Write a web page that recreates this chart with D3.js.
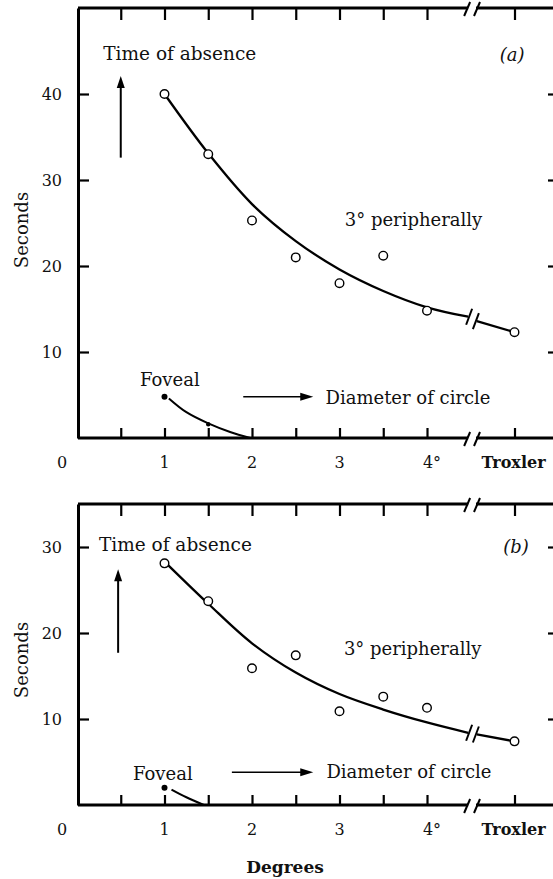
<!DOCTYPE html>
<html lang="en">
<head>
<meta charset="utf-8">
<title>Time of absence vs diameter of circle</title>
<style>
  body { margin: 0; background: #fff; }
  svg { display: block; background: #fff; }
  svg text { font-family: "DejaVu Serif", "Liberation Serif", serif; }
  .axis path, .axis line { stroke: #000; fill: none; }
  .axis line { stroke-width: 2.2px; }
  .axis path { stroke-width: 3px; }
  .frame { stroke: #000; stroke-width: 3px; fill: none; }
  .fit { stroke: #000; stroke-width: 2.3px; fill: none; }
  .obs { fill: #fff; stroke: #000; stroke-width: 1.4px; }
  .lbl { fill: #111; }
</style>
</head>
<body>
<script src="https://cdnjs.cloudflare.com/ajax/libs/d3/7.8.5/d3.min.js"></script>
<script>
// ---- data ----
var sizes = [1, 1.5, 2, 2.5, 3, 3.5, 4, 5];           // 5 = "Troxler" position
var timesA = [40, 33, 25.3, 21, 18, 21.2, 14.8, 12.3];
var timesB = [28.1, 23.7, 15.9, 17.4, 10.9, 12.6, 11.3, 7.4];

var fitX = [1, 1.5, 2, 2.5, 3, 3.5, 4, 4.47];
var fitA = [40, 33.1, 27.2, 22.9, 19.6, 17.1, 15.2, 14.1];
var fitB = [28.3, 23.4, 18.8, 15.4, 12.9, 11.1, 9.6, 8.4];
var tailX = [4.57, 5];
var tailA = [13.6, 12.3];
var tailB = [8.2, 7.4];

var fovealX = [1, 1.5];
var fovealA = [4.8, 1.6];
var fovealB = [2.0];
var fovealFitXA = [1.05, 1.25, 1.5, 1.75, 1.98];
var fovealFitA = [4.6, 3.0, 1.7, 0.7, 0];
var fovealFitXB = [1.08, 1.25, 1.45];
var fovealFitB = [1.8, 0.9, 0];

var xTickVals = [0.5, 1, 1.5, 2, 2.5, 3, 3.5, 4, 5];
var xLabelVals = [0, 1, 2, 3, 4];
var xLabels = ["0", "1", "2", "3", "4°"];
var yTicksA = [10, 20, 30, 40];
var yTicksB = [10, 20, 30];

var W = 553, H = 879;
var FONT = "'DejaVu Serif', 'Liberation Serif', serif";
var svg = d3.select("body").append("svg").attr("width", W).attr("height", H)
  .attr("font-family", FONT);

var x = d3.scaleLinear().domain([0, 5]).range([77, 514.5]);
var xLeft = 78, xRight = 558;
var breakAt = [4.47, 4.56];

var line = d3.line()
  .x(function(d) { return x(d[0]); })
  .y(function(d) { return d[1]; })
  .curve(d3.curveCatmullRom);

function slash(g, px, py, h) {
  g.append("line").attr("class", "frame").style("stroke-width", "2px")
    .attr("x1", px - 3).attr("y1", py + h)
    .attr("x2", px + 3).attr("y2", py - h);
}

function panel(p) {
  var y = d3.scaleLinear().domain(p.domain).range(p.range);
  var g = svg.append("g");
  var top = y(p.domain[1]), bot = y(0);

  // left axis (ticks point inward)
  g.append("g").attr("class", "axis")
    .attr("transform", "translate(" + xLeft + ",0)")
    .call(d3.axisLeft(y).tickValues(p.yTicks).tickSize(-11).tickSizeOuter(0).tickPadding(16))
    .call(function(a) {
      a.attr("font-family", FONT);
      a.selectAll("text").attr("font-size", 16).attr("fill", "#111");
    });

  // right frame ticks (frame itself is just off the page)
  g.append("g").attr("class", "axis")
    .attr("transform", "translate(" + xRight + ",0)")
    .call(d3.axisRight(y).tickValues(p.yTicks).tickSize(-10).tickFormat(""))
    .call(function(a) { a.select(".domain").remove(); });

  // top and bottom axes, with a break
  [[top, d3.axisTop, -12], [bot, d3.axisBottom, -10]].forEach(function(s) {
    g.append("g").attr("class", "axis")
      .attr("transform", "translate(0," + s[0] + ")")
      .call(s[1](x).tickValues(xTickVals).tickSize(s[2]).tickFormat(""))
      .call(function(a) { a.select(".domain").remove(); });
    g.append("line").attr("class", "frame")
      .attr("x1", xLeft).attr("x2", x(breakAt[0])).attr("y1", s[0]).attr("y2", s[0]);
    g.append("line").attr("class", "frame")
      .attr("x1", x(breakAt[1])).attr("x2", xRight + 2).attr("y1", s[0]).attr("y2", s[0]);
    slash(g, x(breakAt[0]) - 1, s[0] + 1, 7);
    slash(g, x(breakAt[1]) + 1, s[0] + 1, 7);
  });

  // x labels
  g.selectAll("text.xl").data(xLabelVals).enter().append("text")
    .attr("class", "lbl")
    .attr("x", function(d, i) { return x(d) + (i === 0 ? -15 : (i === 4 ? 5 : 0)); })
    .attr("y", bot + 30)
    .attr("text-anchor", "middle").attr("font-size", 16)
    .text(function(d, i) { return xLabels[i]; });
  g.append("text").attr("class", "lbl")
    .attr("x", x(5) - 33).attr("y", bot + 30)
    .attr("font-size", 16).attr("font-weight", "bold")
    .text("Troxler");

  // y title
  g.append("text").attr("class", "lbl")
    .attr("transform", "translate(28," + p.titleY + ") rotate(-90)")
    .attr("text-anchor", "middle").attr("font-size", 18)
    .text("Seconds");

  // fitted curves
  g.append("path").attr("class", "fit")
    .attr("d", line(fitX.map(function(v, i) { return [v, y(p.fit[i])]; })));
  g.append("path").attr("class", "fit")
    .attr("d", line(tailX.map(function(v, i) { return [v, y(p.tail[i])]; })));
  slash(g, x(fitX[fitX.length - 1]) + 1, y(p.fit[p.fit.length - 1]), 8);
  slash(g, x(tailX[0]) - 1, y(p.tail[0]), 8);

  g.append("path").attr("class", "fit").style("stroke-width", "2px")
    .attr("d", line(p.fovFitX.map(function(v, i) { return [v, y(p.fovFit[i])]; })));

  // observations
  g.selectAll("circle.obs").data(p.times).enter().append("circle")
    .attr("class", "obs")
    .attr("cx", function(d, i) { return x(sizes[i]); })
    .attr("cy", function(d) { return y(d); })
    .attr("r", 4.3);
  g.selectAll("circle.fov").data(p.foveal).enter().append("circle")
    .attr("fill", "#000")
    .attr("cx", function(d, i) { return x(fovealX[i]); })
    .attr("cy", function(d) { return y(d); })
    .attr("r", function(d, i) { return i === 0 ? 3 : 2.2; });

  // arrows
  var up = p.upArrow, rt = p.rightArrow;
  g.append("line").attr("class", "frame").style("stroke-width", "2px")
    .attr("x1", x(up[0])).attr("x2", x(up[0]))
    .attr("y1", y(up[1])).attr("y2", y(up[2]) + 8);
  g.append("path").attr("fill", "#000")
    .attr("d", "M" + x(up[0]) + "," + y(up[2]) + "l-4,12l8,0z");
  g.append("line").attr("class", "frame").style("stroke-width", "1.5px")
    .attr("x1", x(rt[0])).attr("x2", x(rt[1]) - 8)
    .attr("y1", y(rt[2])).attr("y2", y(rt[2]));
  g.append("path").attr("fill", "#000")
    .attr("d", "M" + x(rt[1]) + "," + y(rt[2]) + "l-13,-4l0,8z");

  // annotations
  p.notes.forEach(function(n) {
    g.append("text").attr("class", "lbl")
      .attr("x", x(n[0])).attr("y", y(n[1]))
      .attr("font-size", n[3] || 18)
      .attr("font-style", n[4] || "normal")
      .text(n[2]);
  });
}

panel({
  domain: [0, 50], range: [438, 8], yTicks: yTicksA, titleY: 230,
  times: timesA, fit: fitA, tail: tailA,
  foveal: fovealA, fovFitX: fovealFitXA, fovFit: fovealFitA,
  upArrow: [0.5, 32.6, 42.1], rightArrow: [1.9, 2.7, 4.8],
  notes: [
    [0.3, 44.0, "Time of absence", 18.5],
    [4.83, 43.8, "(a)", 18, "italic"],
    [3.06, 24.6, "3° peripherally"],
    [0.72, 6.0, "Foveal"],
    [2.84, 4.0, "Diameter of circle"]
  ]
});

panel({
  domain: [0, 35], range: [805, 504], yTicks: yTicksB, titleY: 660,
  times: timesB, fit: fitB, tail: tailB,
  foveal: fovealB, fovFitX: fovealFitXB, fovFit: fovealFitB,
  upArrow: [0.47, 17.7, 27.4], rightArrow: [1.77, 2.7, 3.8],
  notes: [
    [0.25, 29.5, "Time of absence", 18.5],
    [4.87, 29.3, "(b)", 18, "italic"],
    [3.05, 17.4, "3° peripherally"],
    [0.64, 2.9, "Foveal"],
    [2.85, 3.1, "Diameter of circle"]
  ]
});

svg.append("text").attr("class", "lbl")
  .attr("x", 285).attr("y", 873)
  .attr("text-anchor", "middle").attr("font-size", 17).attr("font-weight", "bold")
  .text("Degrees");
</script>
</body>
</html>
